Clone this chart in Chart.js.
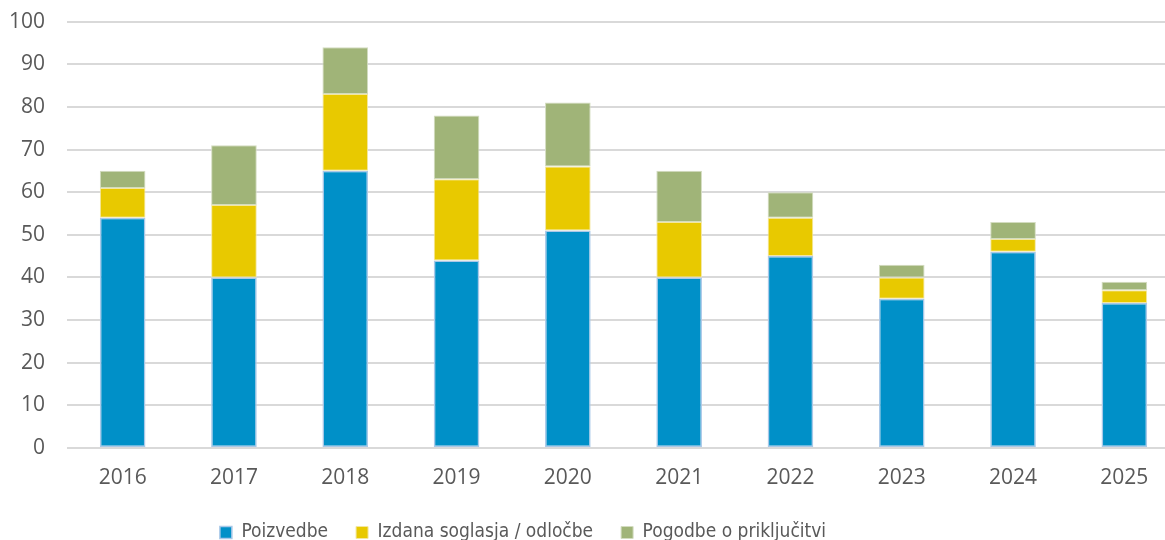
<!DOCTYPE html>
<html>
<head>
<meta charset="utf-8">
<script src="https://cdn.jsdelivr.net/npm/chart.js@4"></script>
<style>
  html, body { margin: 0; padding: 0; background: #fff; overflow: hidden; }
  #wrap { position: absolute; left: 0; top: -13px; width: 1180px; height: 565px; }
</style>
</head>
<body>
<div id="wrap"><canvas id="myChart"></canvas></div>
<script>
const years = ["2016", "2017", "2018", "2019", "2020", "2021", "2022", "2023", "2024", "2025"];
const poizvedbe = [54, 40, 65, 44, 51, 40, 45, 35, 46, 34];
const soglasja = [7, 17, 18, 19, 15, 13, 9, 5, 3, 3];
const pogodbe = [4, 14, 11, 15, 15, 12, 6, 3, 4, 2];
const yTicks = [0, 10, 20, 30, 40, 50, 60, 70, 80, 90, 100];

// legend in the original sits a bit left of centre
const legendShift = {
  id: 'legendShift',
  beforeDraw(chart) {
    if (!chart.legend._shifted) {
      chart.legend.right -= 134;
      chart.legend._shifted = true;
    }
  },
  afterUpdate(chart) { chart.legend._shifted = false; }
};

const ctx = document.getElementById('myChart');

new Chart(ctx, {
  type: 'bar',
  data: {
    labels: years,
    datasets: [{
      label: 'Poizvedbe',
      data: poizvedbe,
      backgroundColor: '#0090c8',
      borderColor: '#a9c8e8',
      borderWidth: 1.5,
      borderSkipped: false
    }, {
      label: 'Izdana soglasja / odločbe',
      data: soglasja,
      backgroundColor: '#e8c900',
      borderColor: '#f3e7a0',
      borderWidth: 1,
      borderSkipped: false
    }, {
      label: 'Pogodbe o priključitvi',
      data: pogodbe,
      backgroundColor: '#a0b478',
      borderColor: '#d3dcc0',
      borderWidth: 1,
      borderSkipped: false
    }]
  },
  plugins: [legendShift],
  options: {
    responsive: true,
    maintainAspectRatio: false,
    animation: false,
    layout: { padding: { top: 0, left: 0, right: 0, bottom: 0 } },
    datasets: { bar: { barPercentage: 0.41, categoryPercentage: 1 } },
    plugins: {
      tooltip: { enabled: false },
      legend: {
        position: 'bottom',
        labels: {
          boxWidth: 12,
          boxHeight: 12,
          padding: 28,
          color: '#595959',
          font: { family: "'DejaVu Sans Condensed', sans-serif", size: 19 }
        }
      }
    },
    scales: {
      x: {
        stacked: true,
        afterFit: (axis) => { axis.height = 47; },
        grid: { display: false, drawTicks: false },
        border: { display: false },
        ticks: { color: '#595959', padding: 17, font: { family: 'Open Sans', size: 21 } }
      },
      y: {
        stacked: true,
        min: 0,
        max: 100,
        afterFit: (axis) => { axis.width = 67; },
        afterBuildTicks: (axis) => { axis.ticks = yTicks.map(v => ({ value: v })); },
        grid: { color: '#d9d9d9', lineWidth: 2, drawTicks: false },
        border: { display: false },
        ticks: { color: '#595959', padding: 22, font: { family: 'Open Sans', size: 21 } }
      }
    }
  }
});
</script>
</body>
</html>
